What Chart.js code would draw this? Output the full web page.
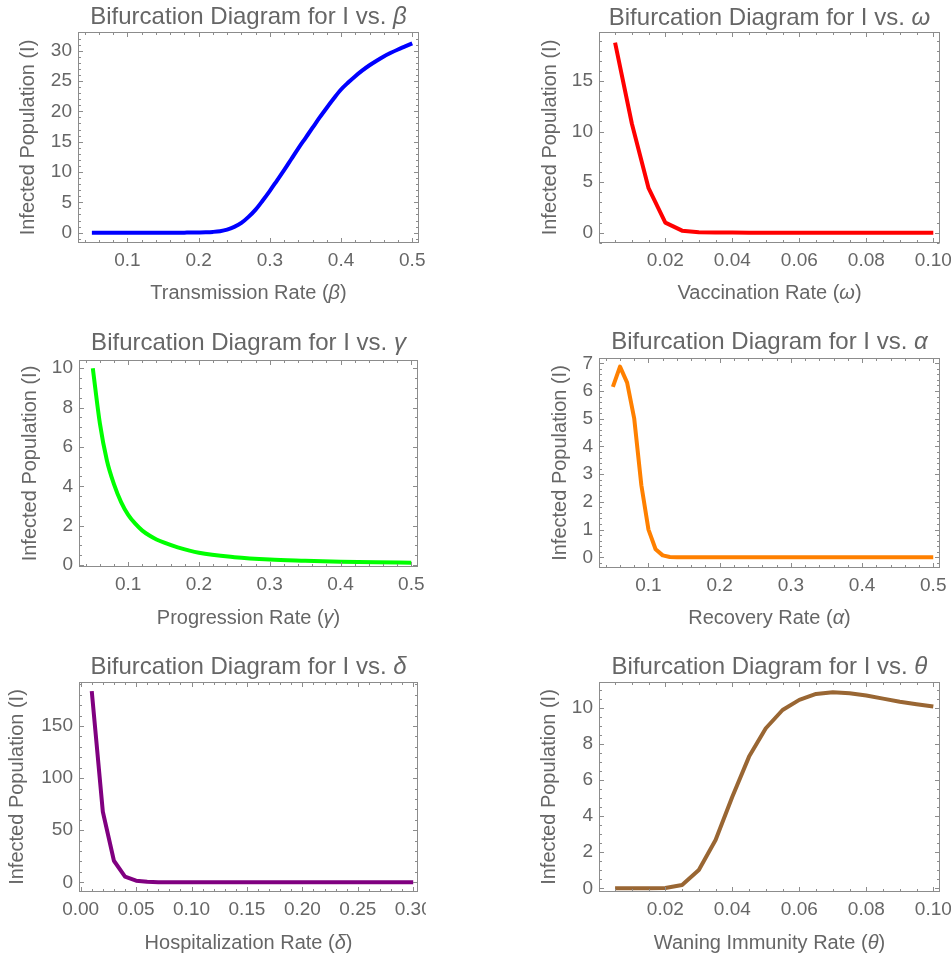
<!DOCTYPE html>
<html>
<head>
<meta charset="utf-8">
<script src="https://cdn.jsdelivr.net/npm/chart.js@4.4.1/dist/chart.umd.min.js"></script>
<style>
  html, body { margin: 0; padding: 0; background: #ffffff; }
  body { width: 951px; height: 959px; position: relative; overflow: hidden; }
  canvas { position: absolute; }
</style>
</head>
<body>
<canvas id="c1"></canvas>
<canvas id="c2"></canvas>
<canvas id="c3"></canvas>
<canvas id="c4"></canvas>
<canvas id="c5"></canvas>
<canvas id="c6"></canvas>
<script>
// ---------------- DATA ----------------
// Panel 1: I vs beta
const betaValues = [0.05,0.06,0.07,0.08,0.09,0.10,0.11,0.12,0.13,0.14,0.15,0.16,0.17,0.18,0.19,0.20,0.21,0.22,0.23,0.24,0.25,0.26,0.27,0.28,0.29,0.30,0.31,0.32,0.33,0.34,0.35,0.36,0.37,0.38,0.39,0.40,0.41,0.42,0.43,0.44,0.45,0.46,0.47,0.48,0.49,0.50];
const infectedBeta = [0,0,0,0,0,0,0,0,0,0,0,0,0,0.01,0.02,0.04,0.07,0.13,0.25,0.5,0.95,1.6,2.6,3.8,5.3,6.9,8.6,10.3,12.1,13.9,15.6,17.3,19.0,20.6,22.15,23.6,24.75,25.8,26.75,27.6,28.35,29.05,29.65,30.2,30.7,31.2];
const betaXTicks = [0.1,0.2,0.3,0.4,0.5];
const betaXLabels = ["0.1","0.2","0.3","0.4","0.5"];
const betaYTicks = [0,5,10,15,20,25,30];
const betaYLabels = ["0","5","10","15","20","25","30"];

// Panel 2: I vs omega
const omegaValues = [0.005,0.010,0.015,0.020,0.025,0.030,0.035,0.040,0.045,0.050,0.055,0.060,0.065,0.070,0.075,0.080,0.085,0.090,0.095,0.100];
const infectedOmega = [18.8,10.8,4.4,1.0,0.2,0.05,0.02,0.01,0,0,0,0,0,0,0,0,0,0,0,0];
const omegaXTicks = [0.02,0.04,0.06,0.08,0.10];
const omegaXLabels = ["0.02","0.04","0.06","0.08","0.10"];
const omegaYTicks = [0,5,10,15];
const omegaYLabels = ["0","5","10","15"];

// Panel 3: I vs gamma
const gammaValues = [0.05,0.06,0.07,0.08,0.09,0.10,0.11,0.12,0.13,0.14,0.15,0.17,0.20,0.25,0.30,0.35,0.40,0.45,0.50];
const infectedGamma = [10.0,7.2,5.3,4.1,3.2,2.55,2.1,1.75,1.5,1.3,1.15,0.9,0.62,0.4,0.28,0.22,0.17,0.14,0.12];
const gammaXTicks = [0.1,0.2,0.3,0.4,0.5];
const gammaXLabels = ["0.1","0.2","0.3","0.4","0.5"];
const gammaYTicks = [0,2,4,6,8,10];
const gammaYLabels = ["0","2","4","6","8","10"];

// Panel 4: I vs alpha
const alphaValues = [0.05,0.06,0.07,0.08,0.09,0.10,0.11,0.12,0.13,0.14,0.15,0.16,0.17,0.18,0.19,0.20,0.21,0.22,0.23,0.24,0.25,0.26,0.27,0.28,0.29,0.30,0.31,0.32,0.33,0.34,0.35,0.36,0.37,0.38,0.39,0.40,0.41,0.42,0.43,0.44,0.45,0.46,0.47,0.48,0.49,0.50];
const infectedAlpha = [6.15,6.88,6.3,5.0,2.6,1.0,0.29,0.07,0.01,0,0,0,0,0,0,0,0,0,0,0,0,0,0,0,0,0,0,0,0,0,0,0,0,0,0,0,0,0,0,0,0,0,0,0,0,0];
const alphaXTicks = [0.1,0.2,0.3,0.4,0.5];
const alphaXLabels = ["0.1","0.2","0.3","0.4","0.5"];
const alphaYTicks = [0,1,2,3,4,5,6,7];
const alphaYLabels = ["0","1","2","3","4","5","6","7"];

// Panel 5: I vs delta
const deltaValues = [0.01,0.02,0.03,0.04,0.05,0.06,0.07,0.08,0.09,0.10,0.11,0.12,0.13,0.14,0.15,0.16,0.17,0.18,0.19,0.20,0.21,0.22,0.23,0.24,0.25,0.26,0.27,0.28,0.29,0.30];
const infectedDelta = [183.5,67.7,20.7,5.4,1.6,0.45,0.12,0.03,0.01,0,0,0,0,0,0,0,0,0,0,0,0,0,0,0,0,0,0,0,0,0];
const deltaXTicks = [0,0.05,0.10,0.15,0.20,0.25,0.30];
const deltaXLabels = ["0.00","0.05","0.10","0.15","0.20","0.25","0.30"];
const deltaYTicks = [0,50,100,150];
const deltaYLabels = ["0","50","100","150"];

// Panel 6: I vs theta
const thetaValues = [0.005,0.010,0.015,0.020,0.025,0.030,0.035,0.040,0.045,0.050,0.055,0.060,0.065,0.070,0.075,0.080,0.085,0.090,0.095,0.100];
const infectedTheta = [0,0,0,0.02,0.18,1.01,2.67,5.07,7.29,8.86,9.87,10.43,10.76,10.85,10.8,10.67,10.5,10.33,10.19,10.06];
const thetaXTicks = [0.02,0.04,0.06,0.08,0.10];
const thetaXLabels = ["0.02","0.04","0.06","0.08","0.10"];
const thetaYTicks = [0,2,4,6,8,10];
const thetaYLabels = ["0","2","4","6","8","10"];

const yAxisTitle = "Infected Population (I)";

// ---------------- STYLE / LAYOUT ----------------
const FONT = '"Liberation Sans", Arial, sans-serif';
const TEXT_COLOR = '#666666';
const FRAME_COLOR = '#8c8c8c';
const TITLE_SIZE = 24;
const LABEL_SIZE = 20;
const TICK_SIZE = 19;

const panels = [
  { id: 'c1', xs: betaValues, ys: infectedBeta, color: '#0000ff', smooth: true,
    xTicks: betaXTicks, xLabels: betaXLabels, yTicks: betaYTicks, yLabels: betaYLabels,
    xMinorStep: 0.02, yMinorStep: 1,
    xMin: 0.0305, xMax: 0.5095, yMin: -1.70, yMax: 33.08,
    title: [{t: 'Bifurcation Diagram for I vs. '}, {t: 'β', i: true}],
    xTitle: [{t: 'Transmission Rate ('}, {t: 'β', i: true}, {t: ')'}],
    box: {cl: 0, ct: 0, cw: 426, ch: 312}, frame: {L: 78, T: 32, R: 419, B: 243},
    titleY: 17.5, xTitleY: 293, yTitleX: 28.5 },
  { id: 'c2', xs: omegaValues, ys: infectedOmega, color: '#ff0000', smooth: false,
    xTicks: omegaXTicks, xLabels: omegaXLabels, yTicks: omegaYTicks, yLabels: omegaYLabels,
    xMinorStep: 0.005, yMinorStep: 1,
    xMin: 0.0002, xMax: 0.102, yMin: -1.02, yMax: 19.85,
    title: [{t: 'Bifurcation Diagram for I vs. '}, {t: 'ω', i: true}],
    xTitle: [{t: 'Vaccination Rate ('}, {t: 'ω', i: true}, {t: ')'}],
    box: {cl: 530, ct: 0, cw: 421, ch: 312}, frame: {L: 599, T: 32, R: 940, B: 243},
    titleY: 18, xTitleY: 293, yTitleX: 550.8 },
  { id: 'c3', xs: gammaValues, ys: infectedGamma, color: '#00ff00', smooth: true,
    xTicks: gammaXTicks, xLabels: gammaXLabels, yTicks: gammaYTicks, yLabels: gammaYLabels,
    xMinorStep: 0.02, yMinorStep: 0.5,
    xMin: 0.0305, xMax: 0.5095, yMin: -0.10, yMax: 10.42,
    title: [{t: 'Bifurcation Diagram for I vs. '}, {t: 'γ', i: true}],
    xTitle: [{t: 'Progression Rate ('}, {t: 'γ', i: true}, {t: ')'}],
    box: {cl: 0, ct: 312, cw: 426, ch: 328}, frame: {L: 79, T: 360, R: 418, B: 567},
    titleY: 343.3, xTitleY: 618, yTitleX: 30.5 },
  { id: 'c4', xs: alphaValues, ys: infectedAlpha, color: '#ff8000', smooth: false,
    xTicks: alphaXTicks, xLabels: alphaXLabels, yTicks: alphaYTicks, yLabels: alphaYLabels,
    xMinorStep: 0.02, yMinorStep: 0.2,
    xMin: 0.0305, xMax: 0.5095, yMin: -0.386, yMax: 7.19,
    title: [{t: 'Bifurcation Diagram for I vs. '}, {t: 'α', i: true}],
    xTitle: [{t: 'Recovery Rate ('}, {t: 'α', i: true}, {t: ')'}],
    box: {cl: 530, ct: 312, cw: 421, ch: 328}, frame: {L: 599, T: 358, R: 940, B: 568},
    titleY: 342.8, xTitleY: 618, yTitleX: 560.5 },
  { id: 'c5', xs: deltaValues, ys: infectedDelta, color: '#800080', smooth: false,
    xTicks: deltaXTicks, xLabels: deltaXLabels, yTicks: deltaYTicks, yLabels: deltaYLabels,
    xMinorStep: 0.01, yMinorStep: 10,
    xMin: -0.0015, xMax: 0.3043, yMin: -9.3, yMax: 192.2,
    title: [{t: 'Bifurcation Diagram for I vs. '}, {t: 'δ', i: true}],
    xTitle: [{t: 'Hospitalization Rate ('}, {t: 'δ', i: true}, {t: ')'}],
    box: {cl: 0, ct: 640, cw: 426, ch: 319}, frame: {L: 79, T: 682, R: 418, B: 892},
    titleY: 667.8, xTitleY: 943, yTitleX: 17.2 },
  { id: 'c6', xs: thetaValues, ys: infectedTheta, color: '#996633', smooth: false,
    xTicks: thetaXTicks, xLabels: thetaXLabels, yTicks: thetaYTicks, yLabels: thetaYLabels,
    xMinorStep: 0.005, yMinorStep: 0.5,
    xMin: 0.0002, xMax: 0.102, yMin: -0.205, yMax: 11.42,
    title: [{t: 'Bifurcation Diagram for I vs. '}, {t: 'θ', i: true}],
    xTitle: [{t: 'Waning Immunity Rate ('}, {t: 'θ', i: true}, {t: ')'}],
    box: {cl: 530, ct: 640, cw: 421, ch: 319}, frame: {L: 599, T: 682, R: 940, B: 892},
    titleY: 667.8, xTitleY: 943, yTitleX: 549.7 }
];

function fontStr(size, italic) {
  return (italic ? 'italic ' : '') + size + 'px ' + FONT;
}

function drawMixed(ctx, parts, cx, cy, size) {
  const widths = parts.map(p => { ctx.font = fontStr(size, p.i); return ctx.measureText(p.t).width; });
  const total = widths.reduce((a, b) => a + b, 0);
  let x = cx - total / 2;
  ctx.fillStyle = TEXT_COLOR;
  ctx.textBaseline = 'middle';
  ctx.textAlign = 'left';
  parts.forEach((p, k) => { ctx.font = fontStr(size, p.i); ctx.fillText(p.t, x, cy); x += widths[k]; });
}

function minorValues(min, max, step) {
  const out = [];
  const start = Math.ceil(min / step - 1e-9);
  for (let k = start; k * step <= max + 1e-12; k++) out.push(k * step);
  return out;
}

const mmaFrame = {
  id: 'mmaFrame',
  afterDraw(chart, args, o) {
    const ctx = chart.ctx;
    const a = chart.chartArea;
    const xs = chart.scales.x, ys = chart.scales.y;
    ctx.save();
    ctx.strokeStyle = FRAME_COLOR;
    ctx.lineWidth = 1;
    ctx.strokeRect(Math.round(a.left) + 0.5, Math.round(a.top) + 0.5, Math.round(a.right - a.left) - 1, Math.round(a.bottom - a.top) - 1);
    const L = Math.round(a.left) + 0.5, R = Math.round(a.right) - 0.5;
    const T = Math.round(a.top) + 0.5, B = Math.round(a.bottom) - 0.5;
    ctx.beginPath();
    const MAJ = 4.5, MIN = 2.5;
    const xMinor = minorValues(o.xMin, o.xMax, o.xMinorStep);
    const yMinor = minorValues(o.yMin, o.yMax, o.yMinorStep);
    xMinor.forEach(v => {
      const p = Math.round(xs.getPixelForValue(v)) + 0.5;
      ctx.moveTo(p, B); ctx.lineTo(p, B - MIN);
      ctx.moveTo(p, T); ctx.lineTo(p, T + MIN);
    });
    o.xTicks.forEach(v => {
      const p = Math.round(xs.getPixelForValue(v)) + 0.5;
      ctx.moveTo(p, B); ctx.lineTo(p, B - MAJ);
      ctx.moveTo(p, T); ctx.lineTo(p, T + MAJ);
    });
    yMinor.forEach(v => {
      const p = Math.round(ys.getPixelForValue(v)) + 0.5;
      ctx.moveTo(L, p); ctx.lineTo(L + MIN, p);
      ctx.moveTo(R, p); ctx.lineTo(R - MIN, p);
    });
    o.yTicks.forEach(v => {
      const p = Math.round(ys.getPixelForValue(v)) + 0.5;
      ctx.moveTo(L, p); ctx.lineTo(L + MAJ, p);
      ctx.moveTo(R, p); ctx.lineTo(R - MAJ, p);
    });
    ctx.stroke();
    const cx = (a.left + a.right) / 2;
    drawMixed(ctx, o.title, cx, o.titleY, TITLE_SIZE);
    drawMixed(ctx, o.xTitle, cx, o.xTitleY, LABEL_SIZE);
    ctx.restore();
  }
};

function zeroPad(s) {
  s.paddingLeft = 0; s.paddingRight = 0; s.paddingTop = 0; s.paddingBottom = 0;
}

panels.forEach(p => {
  const cv = document.getElementById(p.id);
  const b = p.box, f = p.frame;
  cv.width = b.cw; cv.height = b.ch;
  cv.style.left = b.cl + 'px'; cv.style.top = b.ct + 'px';
  cv.style.width = b.cw + 'px'; cv.style.height = b.ch + 'px';
  const xAxisH = 40;
  const padTop = f.T - b.ct;
  const padRight = (b.cl + b.cw) - f.R;
  const padBottom = b.ch - (f.B - b.ct) - xAxisH;
  const yAxisW = f.L - b.cl;
  const points = p.xs.map((x, k) => ({x: x, y: p.ys[k]}));
  new Chart(cv, {
    type: 'line',
    data: { datasets: [{
      data: points,
      borderColor: p.color,
      borderWidth: 4,
      pointRadius: 0,
      fill: false,
      tension: 0,
      cubicInterpolationMode: p.smooth ? 'monotone' : 'default',
      borderJoinStyle: 'round',
      borderCapStyle: 'butt'
    }]},
    options: {
      responsive: false,
      animation: false,
      devicePixelRatio: 1,
      layout: { autoPadding: false, padding: { left: 0, top: padTop, right: padRight, bottom: padBottom } },
      plugins: {
        legend: { display: false },
        tooltip: { enabled: false },
        title: { display: false },
        mmaFrame: {
          xTicks: p.xTicks, yTicks: p.yTicks,
          xMin: p.xMin, xMax: p.xMax, yMin: p.yMin, yMax: p.yMax,
          xMinorStep: p.xMinorStep, yMinorStep: p.yMinorStep,
          title: p.title, xTitle: p.xTitle,
          titleY: p.titleY - b.ct, xTitleY: p.xTitleY - b.ct
        }
      },
      scales: {
        x: {
          type: 'linear', min: p.xMin, max: p.xMax,
          afterBuildTicks: s => { s.ticks = p.xTicks.map(v => ({value: v})); },
          afterFit: s => { s.height = xAxisH; zeroPad(s); },
          ticks: { callback: (v, i) => p.xLabels[i], autoSkip: false, maxRotation: 0, minRotation: 0,
                   padding: 6, color: TEXT_COLOR, font: { family: FONT, size: TICK_SIZE, lineHeight: 1.2 } },
          grid: { display: false, drawTicks: false },
          border: { display: false }
        },
        y: {
          type: 'linear', min: p.yMin, max: p.yMax,
          afterBuildTicks: s => { s.ticks = p.yTicks.map(v => ({value: v})); },
          afterFit: s => { s.width = yAxisW; zeroPad(s); },
          ticks: { callback: (v, i) => p.yLabels[i], autoSkip: false,
                   padding: 6, color: TEXT_COLOR, font: { family: FONT, size: TICK_SIZE, lineHeight: 1.2 } },
          grid: { display: false, drawTicks: false },
          border: { display: false },
          title: { display: true, text: yAxisTitle, color: TEXT_COLOR,
                   font: { family: FONT, size: LABEL_SIZE, lineHeight: 1.2 },
                   padding: { top: p.yTitleX - b.cl - LABEL_SIZE * 0.6, bottom: 0 } }
        }
      }
    },
    plugins: [mmaFrame]
  });
});
</script>
</body>
</html>
